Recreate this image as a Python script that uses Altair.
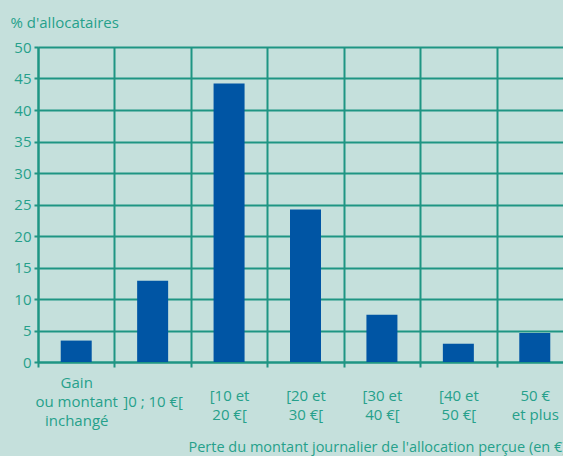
import altair as alt
import pandas as pd

categories = ["Gain|ou montant|inchangé", "]0 ; 10 €[", "[10 et|20 €[", "[20 et|30 €[",
              "[30 et|40 €[", "[40 et|50 €[", "50 €|et plus"]
values = [3.4, 12.9, 44.2, 24.2, 7.5, 2.9, 4.6]

df = pd.DataFrame({"cat": categories, "val": values})

BG = "#c5e0dc"
GRID = "#1f9583"
TEXT = "#26a08b"
BAR = "#0055a4"
FONT = "Open Sans"

label_pad = {
    "condition": [
        {"test": "indexof(datum.label, 'Gain') >= 0", "value": 15},
        {"test": "indexof(datum.label, '|') < 0", "value": 34},
    ],
    "value": 28,
}

chart = alt.Chart(df).mark_bar(color=BAR, width=31).encode(
    x=alt.X("cat:N", sort=categories,
            scale=alt.Scale(range=[0, 535], padding=0),
            axis=alt.Axis(
                title="Perte du montant journalier de l'allocation perçue (en €)",
                titleX=150, titleY=85, titleAlign="left", titleBaseline="middle",
                titleFontWeight="normal", titleFontSize=14.5, titleColor=TEXT, titleFont=FONT,
                labelAngle=0, labelExpr="split(datum.label, '|')",
                labelBaseline="middle", labelAlign="center", labelPadding=label_pad,
                labelLineHeight=19, labelFontSize=15, labelColor=TEXT, labelFont=FONT,
                grid=True, gridColor=GRID, gridWidth=2, tickBand="extent",
                ticks=True, tickSize=5, tickColor=GRID, tickWidth=2,
                domain=True, domainColor=GRID, domainWidth=2)),
    y=alt.Y("val:Q", scale=alt.Scale(domain=[0, 50], nice=False),
            axis=alt.Axis(
                title="% d'allocataires", titleAngle=0, titleX=-28, titleY=-25,
                titleAlign="left", titleBaseline="middle", titleFontWeight="normal",
                titleFontSize=15, titleColor=TEXT, titleFont=FONT,
                values=list(range(0, 51, 5)), labelFontSize=15, labelColor=TEXT,
                labelFont=FONT, labelPadding=3,
                grid=True, gridColor=GRID, gridWidth=2,
                ticks=True, tickSize=4, tickColor=GRID, tickWidth=2,
                domain=True, domainColor=GRID, domainWidth=2)),
).properties(
    width=525, height=315,
    autosize=alt.AutoSizeParams(type="none"),
    padding={"left": 38, "top": 47, "right": 0, "bottom": 94},
    background=BG,
).configure_view(stroke=None, fill=BG)

chart.save("out.html", embed_options={"renderer": "svg", "actions": False})
